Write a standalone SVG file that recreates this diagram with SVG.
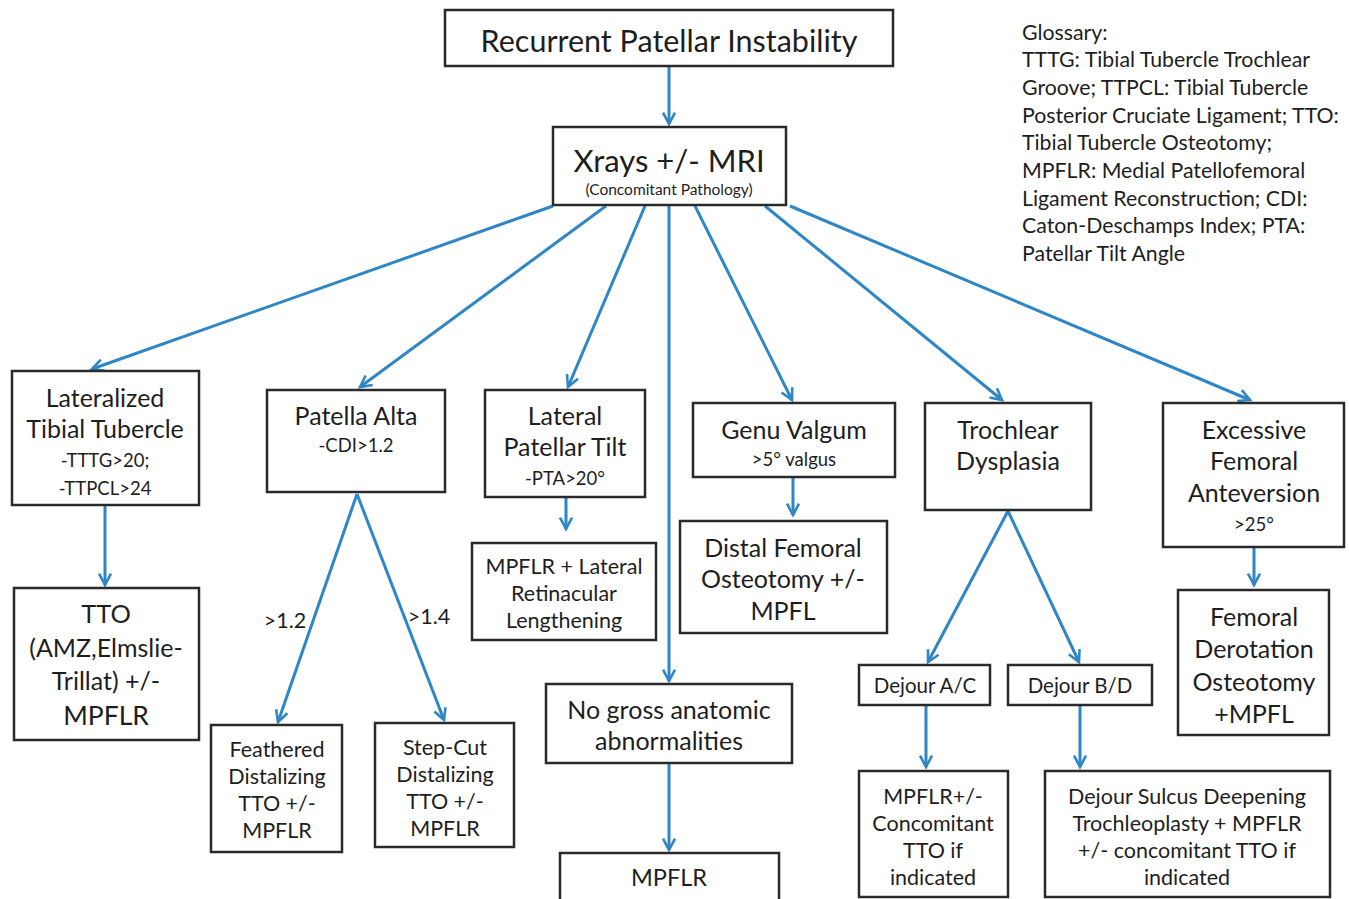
<svg xmlns="http://www.w3.org/2000/svg" width="1349" height="899" viewBox="0 0 1349 899">
<style>
text{font-family:Lato,"Open Sans","Liberation Sans",sans-serif;fill:#1e1e1e;text-anchor:middle}
.box{fill:#fff;stroke:#2a2a2a;stroke-width:2.5}
.c{fill:none;stroke:#2f86c6;stroke-width:3}
.t22{font-size:25px}
.t19{font-size:21.5px}
.t17{font-size:18.5px}
.dj{font-size:20.5px}
.gl{font-size:21.3px;text-anchor:start}
</style>
<defs>
<marker id="ah" viewBox="0 0 12 12" refX="10.5" refY="6" markerWidth="13" markerHeight="13" markerUnits="userSpaceOnUse" orient="auto" overflow="visible">
<polyline points="0,0.5 10.5,6 0,11.5" fill="none" stroke="#2f86c6" stroke-width="2.4"/>
</marker>
</defs>
<rect width="1349" height="899" fill="#fff"/>
<g id="connectors">
<line class="c" x1="669" y1="66" x2="669" y2="124" marker-end="url(#ah)"/>
<line class="c" x1="553" y1="206" x2="92" y2="369" marker-end="url(#ah)"/>
<line class="c" x1="606" y1="206" x2="360" y2="387" marker-end="url(#ah)"/>
<line class="c" x1="645" y1="206" x2="568" y2="387" marker-end="url(#ah)"/>
<line class="c" x1="669" y1="206" x2="669" y2="681" marker-end="url(#ah)"/>
<line class="c" x1="695" y1="206" x2="792" y2="400" marker-end="url(#ah)"/>
<line class="c" x1="765" y1="206" x2="1002" y2="400" marker-end="url(#ah)"/>
<line class="c" x1="790" y1="206" x2="1250" y2="400" marker-end="url(#ah)"/>
<line class="c" x1="105" y1="506" x2="105" y2="585" marker-end="url(#ah)"/>
<line class="c" x1="357" y1="494" x2="278" y2="722" marker-end="url(#ah)"/>
<line class="c" x1="357" y1="494" x2="444" y2="720" marker-end="url(#ah)"/>
<line class="c" x1="566" y1="498" x2="566" y2="529" marker-end="url(#ah)"/>
<line class="c" x1="793" y1="478" x2="793" y2="515" marker-end="url(#ah)"/>
<line class="c" x1="669" y1="763" x2="669" y2="850" marker-end="url(#ah)"/>
<line class="c" x1="1008" y1="511" x2="928" y2="662" marker-end="url(#ah)"/>
<line class="c" x1="1008" y1="511" x2="1079" y2="662" marker-end="url(#ah)"/>
<line class="c" x1="926" y1="706" x2="926" y2="767" marker-end="url(#ah)"/>
<line class="c" x1="1080" y1="706" x2="1080" y2="767" marker-end="url(#ah)"/>
<line class="c" x1="1254" y1="548" x2="1254" y2="585" marker-end="url(#ah)"/>
<text class="t19" x="285" y="628">&gt;1.2</text>
<text class="t19" x="429" y="624">&gt;1.4</text>
</g>
<g id="n-root"><rect class="box" x="445" y="10" width="448" height="56"/><text x="669" y="52" font-size="30.5">Recurrent Patellar Instability</text></g>
<g id="n-xrays"><rect class="box" x="553" y="127" width="233" height="78"/><text x="669" y="172" font-size="31">Xrays +/- MRI</text><text x="669" y="195" font-size="15.5">(Concomitant Pathology)</text></g>
<g id="n-lat-tib"><rect class="box" x="12" y="371" width="187" height="134"/><text class="t22" x="105" y="407">Lateralized</text><text class="t22" x="105" y="438">Tibial Tubercle</text><text class="t17" x="105" y="467">-TTTG&gt;20;</text><text class="t17" x="105" y="495">-TTPCL&gt;24</text></g>
<g id="n-alta"><rect class="box" x="267" y="390" width="178" height="102"/><text class="t22" x="356" y="425">Patella Alta</text><text class="t17" x="356" y="452">-CDI&gt;1.2</text></g>
<g id="n-tilt"><rect class="box" x="485" y="390" width="160" height="107"/><text class="t22" x="565" y="425">Lateral</text><text class="t22" x="565" y="456">Patellar Tilt</text><text class="t17" x="565" y="485">-PTA&gt;20°</text></g>
<g id="n-valgum"><rect class="box" x="693" y="403" width="202" height="74"/><text class="t22" x="794" y="439">Genu Valgum</text><text class="t17" x="794" y="466">&gt;5° valgus</text></g>
<g id="n-troch"><rect class="box" x="925" y="403" width="166" height="107"/><text class="t22" x="1008" y="439">Trochlear</text><text class="t22" x="1008" y="470">Dysplasia</text></g>
<g id="n-antev"><rect class="box" x="1163" y="403" width="181" height="144"/><text class="t22" x="1254" y="439">Excessive</text><text class="t22" x="1254" y="470">Femoral</text><text class="t22" x="1254" y="502">Anteversion</text><text class="t17" x="1254" y="531">&gt;25°</text></g>
<g id="n-tto"><rect class="box" x="14" y="588" width="185" height="152"/><text x="106" y="623" font-size="25.5">TTO</text><text class="t22" x="106" y="657">(AMZ,Elmslie-</text><text class="t22" x="106" y="690">Trillat) +/-</text><text x="106" y="725" font-size="26.5">MPFLR</text></g>
<g id="n-feath"><rect class="box" x="211" y="725" width="131" height="127"/><text class="t19" x="277" y="757">Feathered</text><text class="t19" x="277" y="784">Distalizing</text><text class="t19" x="277" y="811">TTO +/-</text><text class="t19" x="277" y="838">MPFLR</text></g>
<g id="n-step"><rect class="box" x="375" y="723" width="139" height="124"/><text class="t19" x="445" y="755">Step-Cut</text><text class="t19" x="445" y="782">Distalizing</text><text class="t19" x="445" y="809">TTO +/-</text><text class="t19" x="445" y="836">MPFLR</text></g>
<g id="n-mpflr-lat"><rect class="box" x="472" y="543" width="184" height="97"/><text class="t19" x="564" y="574">MPFLR + Lateral</text><text class="t19" x="564" y="601">Retinacular</text><text class="t19" x="564" y="628">Lengthening</text></g>
<g id="n-dfo"><rect class="box" x="680" y="521" width="207" height="112"/><text class="t22" x="783" y="557">Distal Femoral</text><text class="t22" x="783" y="588">Osteotomy +/-</text><text class="t22" x="783" y="620">MPFL</text></g>
<g id="n-nogross"><rect class="box" x="546" y="684" width="246" height="79"/><text class="t22" x="669" y="719">No gross anatomic</text><text class="t22" x="669" y="750">abnormalities</text></g>
<g id="n-mpflr"><rect class="box" x="560" y="853" width="219" height="50"/><text x="669" y="886" font-size="23.5">MPFLR</text></g>
<g id="n-ac"><rect class="box" x="859" y="665" width="131" height="40"/><text class="dj" x="925" y="693">Dejour A/C</text></g>
<g id="n-bd"><rect class="box" x="1008" y="665" width="144" height="40"/><text class="dj" x="1080" y="693">Dejour B/D</text></g>
<g id="n-ac-tx"><rect class="box" x="859" y="771" width="149" height="126"/><text class="t19" x="933" y="804">MPFLR+/-</text><text class="t19" x="933" y="831">Concomitant</text><text class="t19" x="933" y="858">TTO if</text><text class="t19" x="933" y="885">indicated</text></g>
<g id="n-bd-tx"><rect class="box" x="1045" y="771" width="285" height="126"/><text class="t19" x="1187" y="804">Dejour Sulcus Deepening</text><text class="t19" x="1187" y="831">Trochleoplasty + MPFLR</text><text class="t19" x="1187" y="858">+/- concomitant TTO if</text><text class="t19" x="1187" y="885">indicated</text></g>
<g id="n-fdo"><rect class="box" x="1178" y="590" width="151" height="145"/><text class="t22" x="1254" y="626">Femoral</text><text class="t22" x="1254" y="658">Derotation</text><text class="t22" x="1254" y="691">Osteotomy</text><text class="t22" x="1254" y="723">+MPFL</text></g>
<g id="glossary">
<text class="gl" x="1022" y="40">Glossary:</text>
<text class="gl" x="1022" y="67">TTTG: Tibial Tubercle Trochlear</text>
<text class="gl" x="1022" y="95">Groove; TTPCL: Tibial Tubercle</text>
<text class="gl" x="1022" y="123">Posterior Cruciate Ligament; TTO:</text>
<text class="gl" x="1022" y="150">Tibial Tubercle Osteotomy;</text>
<text class="gl" x="1022" y="178">MPFLR: Medial Patellofemoral</text>
<text class="gl" x="1022" y="206">Ligament Reconstruction; CDI:</text>
<text class="gl" x="1022" y="233">Caton-Deschamps Index; PTA:</text>
<text class="gl" x="1022" y="261">Patellar Tilt Angle</text>
</g>
</svg>
